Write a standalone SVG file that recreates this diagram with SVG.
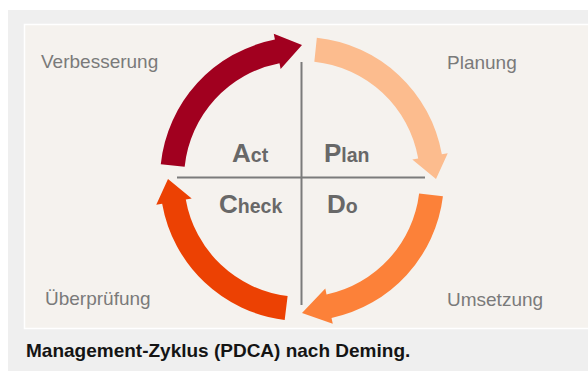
<svg xmlns="http://www.w3.org/2000/svg" width="588" height="371" viewBox="0 0 588 371">
  <style>
    .lbl { font-family: "Liberation Sans", Arial, sans-serif; font-size: 19px; fill: #7a7a7a; }
    .big { font-family: "Liberation Sans", Arial, sans-serif; font-weight: bold; fill: #686868; }
    .cap { font-size: 26px; }
    .sm { font-size: 19.5px; }
    .caption { font-family: "Liberation Sans", Arial, sans-serif; font-weight: bold; font-size: 19px; fill: #141414; }
    .cross { stroke: #7b7b7b; stroke-width: 2; fill: none; }
  </style>
  <rect x="0" y="0" width="588" height="371" fill="#ffffff"/>
  <rect x="8" y="10" width="580" height="361" fill="#efefef"/>
  <rect x="24.5" y="24.5" width="570" height="304" fill="#f5f2ee" stroke="#ffffff" stroke-width="1.5"/>

  <g id="connectors">
    <path id="arrow-act" fill="#a1001f" d="M160.78,164.16 A142,142 0 0 1 274.90,39.61 L273.76,33.72 L302,45 L280.63,69.06 L279.48,63.17 A118,118 0 0 0 184.65,166.67 Z"/>
    <path id="arrow-plan" fill="#fcbc8e" d="M316.84,37.78 A142,142 0 0 1 441.84,154.34 L447.75,153.30 L436,179 L412.30,159.55 L418.21,158.51 A118,118 0 0 0 314.33,61.65 Z"/>
    <path id="arrow-do" fill="#fc8139" d="M442.94,196.31 A142,142 0 0 1 331.52,317.90 L332.77,323.77 L302,313 L325.29,288.55 L326.53,294.42 A118,118 0 0 0 419.12,193.38 Z"/>
    <path id="arrow-check" fill="#ec4103" d="M284.69,319.94 A142,142 0 0 1 162.16,203.66 L156.25,204.70 L168,179 L191.70,198.45 L185.79,199.49 A118,118 0 0 0 287.62,296.12 Z"/>
    <line class="cross" x1="301.5" y1="62" x2="301.5" y2="305"/>
    <line class="cross" x1="177" y1="177.5" x2="425" y2="177.5"/>
  </g>

  <g id="node-act"><text class="big" x="232" y="162"><tspan class="cap">A</tspan><tspan class="sm">ct</tspan></text></g>
  <g id="node-plan"><text class="big" x="324" y="162"><tspan class="cap">P</tspan><tspan class="sm">lan</tspan></text></g>
  <g id="node-check"><text class="big" x="219" y="213"><tspan class="cap">C</tspan><tspan class="sm">heck</tspan></text></g>
  <g id="node-do"><text class="big" x="327" y="213"><tspan class="cap">D</tspan><tspan class="sm">o</tspan></text></g>

  <g id="label-verbesserung"><text class="lbl" x="41" y="68">Verbesserung</text></g>
  <g id="label-planung"><text class="lbl" x="447" y="69">Planung</text></g>
  <g id="label-ueberpruefung"><text class="lbl" x="45" y="305">Überprüfung</text></g>
  <g id="label-umsetzung"><text class="lbl" x="447" y="306">Umsetzung</text></g>

  <g id="caption"><text class="caption" x="26" y="357">Management-Zyklus (PDCA) nach Deming.</text></g>
</svg>
